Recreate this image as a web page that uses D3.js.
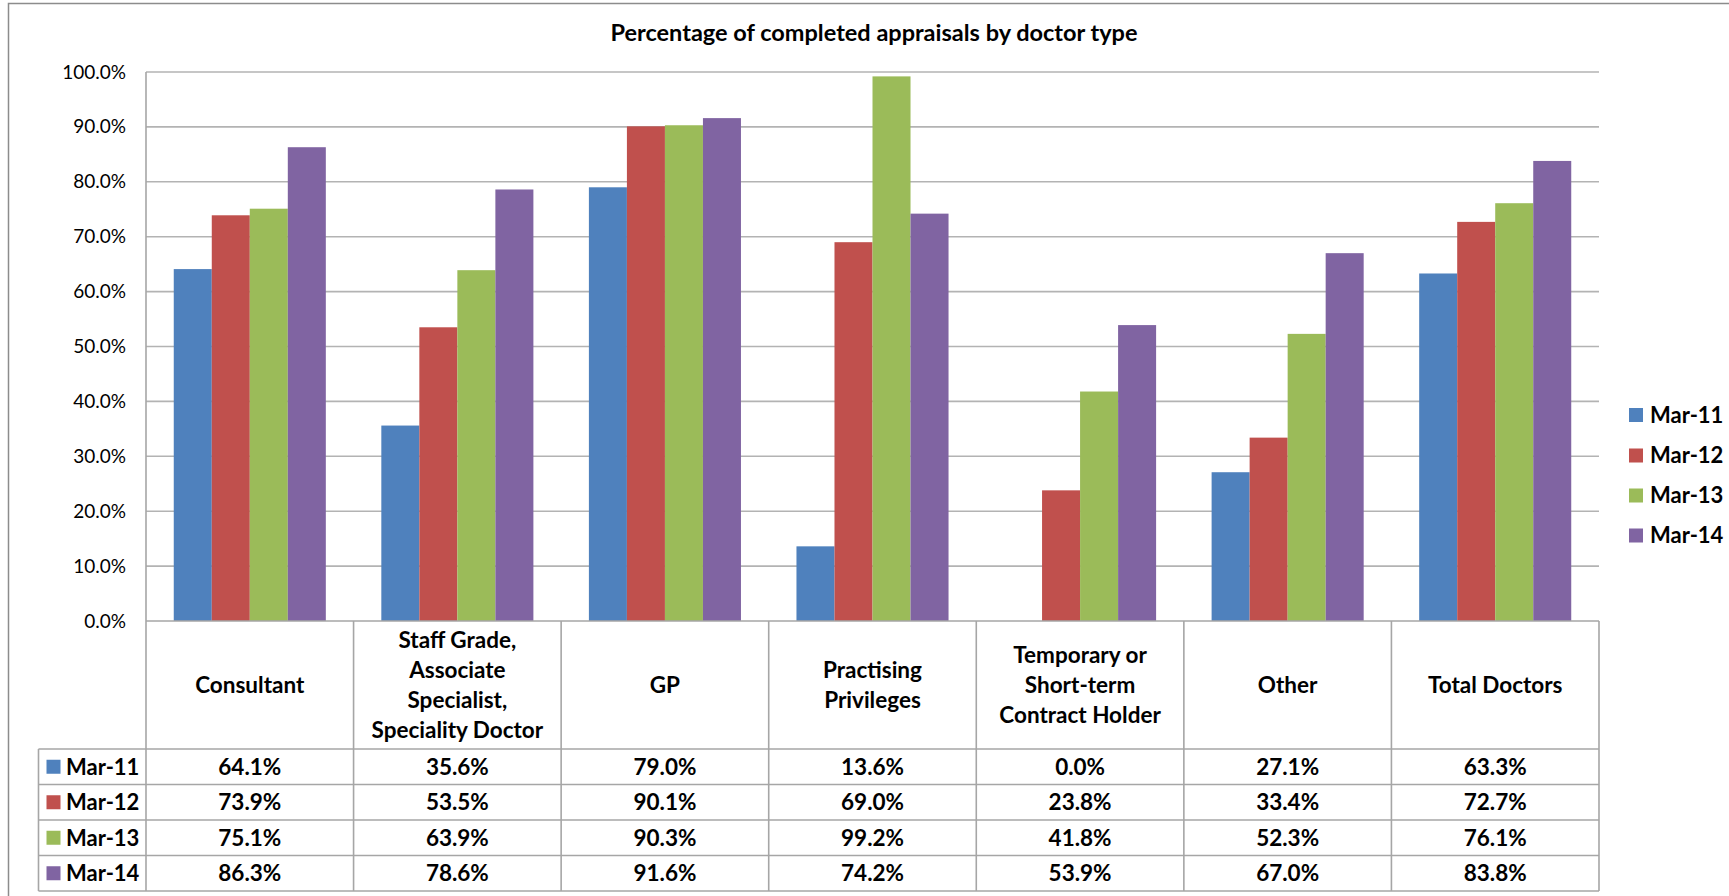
<!DOCTYPE html>
<html>
<head>
<meta charset="utf-8">
<script src="https://cdn.jsdelivr.net/npm/d3@7"></script>
<style>
  html, body { margin: 0; padding: 0; background: #fff; }
  svg { display: block; font-family: Lato, "Open Sans", sans-serif; }
</style>
</head>
<body>
<svg id="chart" width="1729" height="896"></svg>
<script>
// Doctor types (header cell lines) and completion rates per year end
const categories = [
  ["Consultant"],
  ["Staff Grade,", "Associate", "Specialist,", "Speciality Doctor"],
  ["GP"],
  ["Practising", "Privileges"],
  ["Temporary or", "Short-term", "Contract Holder"],
  ["Other"],
  ["Total Doctors"]
];
const seriesNames = ["Mar-11", "Mar-12", "Mar-13", "Mar-14"];
const mar11 = [64.1, 35.6, 79.0, 13.6, 0.0, 27.1, 63.3];
const mar12 = [73.9, 53.5, 90.1, 69.0, 23.8, 33.4, 72.7];
const mar13 = [75.1, 63.9, 90.3, 99.2, 41.8, 52.3, 76.1];
const mar14 = [86.3, 78.6, 91.6, 74.2, 53.9, 67.0, 83.8];
const yTicks = [0, 10, 20, 30, 40, 50, 60, 70, 80, 90, 100];
const colors = ["#4F81BD", "#C0504D", "#9BBB59", "#8064A2"];

const series = [mar11, mar12, mar13, mar14];
const svg = d3.select("#chart");

const plot = { left: 146, right: 1599, top: 72, bottom: 621 };
const headerBottom = 749;
const rowH = 35.5;
const labelColLeft = 38.5;
const lineColor = "#a6a6a6";

// Outer chart frame
svg.append("path")
  .attr("d", `M8.5,900 V3.5 H1740`)
  .attr("fill", "none").attr("stroke", "#8c8c8c").attr("stroke-width", 1.5);

// Title
svg.append("text")
  .attr("x", 874).attr("y", 41)
  .attr("text-anchor", "middle")
  .attr("font-weight", "bold").attr("font-size", 23.5)
  .text("Percentage of completed appraisals by doctor type");

const x = d3.scaleBand().domain(d3.range(categories.length))
  .range([plot.left, plot.right]).padding(0);
const xs = d3.scaleBand().domain(d3.range(series.length))
  .range([0, x.bandwidth()]).paddingInner(0).paddingOuter(0.73);
const y = d3.scaleLinear().domain([0, 100]).range([plot.bottom, plot.top]);

// Gridlines
svg.append("g").selectAll("line").data(yTicks.filter(d => d > 0)).join("line")
  .attr("x1", plot.left).attr("x2", plot.right)
  .attr("y1", d => y(d)).attr("y2", d => y(d))
  .attr("stroke", "#b3b3b3").attr("stroke-width", 1.6);

// Y axis labels
const yAxis = svg.append("g")
  .attr("transform", `translate(${plot.left - 20},0)`)
  .call(d3.axisLeft(y).tickValues(yTicks).tickSize(0).tickPadding(0)
    .tickFormat(d => d.toFixed(1) + "%"));
yAxis.select(".domain").remove();
yAxis.selectAll("text")
  .attr("font-family", "Lato, 'Open Sans', sans-serif")
  .attr("font-size", 19).attr("fill", "#000");

// Bars
const groups = svg.append("g").selectAll("g").data(categories).join("g")
  .attr("transform", (d, i) => `translate(${x(i)},0)`);
groups.selectAll("rect")
  .data((d, i) => series.map((s, k) => ({ k, v: s[i] })))
  .join("rect")
  .attr("x", d => xs(d.k))
  .attr("width", xs.bandwidth())
  .attr("y", d => y(d.v))
  .attr("height", d => y(0) - y(d.v))
  .attr("fill", d => colors[d.k]);

// Value axis line
svg.append("line")
  .attr("x1", plot.left).attr("x2", plot.left)
  .attr("y1", plot.top).attr("y2", plot.bottom)
  .attr("stroke", lineColor).attr("stroke-width", 1.6);

// Data table under the plot
const tableBottom = headerBottom + rowH * series.length;
const tbl = svg.append("g").attr("stroke", lineColor).attr("stroke-width", 1.6);
// horizontal rules
tbl.append("line").attr("x1", plot.left).attr("x2", plot.right)
  .attr("y1", plot.bottom).attr("y2", plot.bottom);
d3.range(series.length + 1).forEach(r => {
  const yy = headerBottom + r * rowH;
  tbl.append("line").attr("x1", labelColLeft).attr("x2", plot.right)
    .attr("y1", yy).attr("y2", yy);
});
// vertical rules
d3.range(categories.length + 1).forEach(c => {
  const xx = plot.left + c * x.bandwidth();
  tbl.append("line").attr("x1", xx).attr("x2", xx)
    .attr("y1", plot.bottom).attr("y2", tableBottom);
});
tbl.append("line").attr("x1", labelColLeft).attr("x2", labelColLeft)
  .attr("y1", headerBottom).attr("y2", tableBottom);

// header labels
const headerMid = (plot.bottom + headerBottom) / 2;
const lineH = 29.8;
categories.forEach((lines, i) => {
  const t = svg.append("text")
    .attr("text-anchor", "middle")
    .attr("font-weight", "bold").attr("font-size", 22.5);
  lines.forEach((ln, j) => {
    t.append("tspan")
      .attr("x", x(i) + x.bandwidth() / 2)
      .attr("y", headerMid + (j - (lines.length - 1) / 2) * lineH)
      .attr("dy", "0.36em")
      .text(ln);
  });
});

// value rows with legend keys
series.forEach((s, k) => {
  const cy = headerBottom + (k + 0.5) * rowH;
  svg.append("rect")
    .attr("x", 46.5).attr("y", cy - 7)
    .attr("width", 14).attr("height", 14)
    .attr("fill", colors[k]);
  svg.append("text")
    .attr("x", 66).attr("y", cy).attr("dy", "0.36em")
    .attr("font-weight", "bold").attr("font-size", 22)
    .text(seriesNames[k]);
  svg.append("g").selectAll("text").data(s).join("text")
    .attr("x", (d, i) => x(i) + x.bandwidth() / 2)
    .attr("y", cy).attr("dy", "0.36em")
    .attr("text-anchor", "middle")
    .attr("font-weight", "bold").attr("font-size", 22.5)
    .text(d => d.toFixed(1) + "%");
});

// Legend on the right
const legendY = [415, 455.5, 495.5, 535.5];
seriesNames.forEach((name, k) => {
  svg.append("rect")
    .attr("x", 1629).attr("y", legendY[k] - 7)
    .attr("width", 14).attr("height", 14)
    .attr("fill", colors[k]);
  svg.append("text")
    .attr("x", 1650).attr("y", legendY[k]).attr("dy", "0.36em")
    .attr("font-weight", "bold").attr("font-size", 22)
    .text(name);
});
</script>
</body>
</html>
